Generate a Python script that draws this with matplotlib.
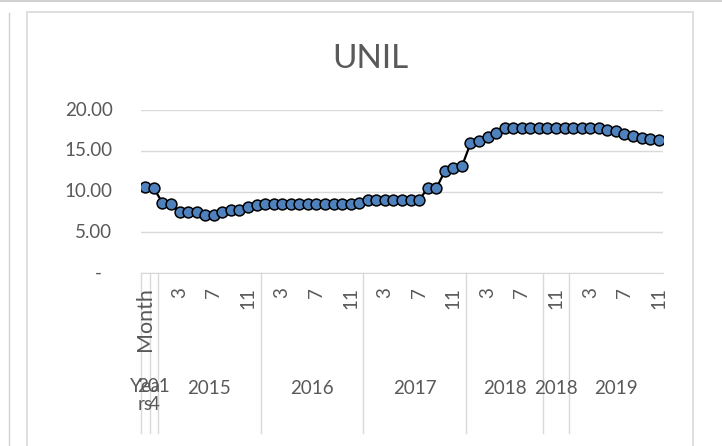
import matplotlib
matplotlib.use("Agg")
import matplotlib.pyplot as plt
from matplotlib.patches import Rectangle
from matplotlib.lines import Line2D

# category axis: outer level (years) and inner level (months)
year_groups = ["Years", "2014", "2015", "2016", "2017", "2018", "2018", "2019"]
group_sizes = [1, 1, 12, 12, 12, 9, 3, 11]
months = (["Month", "12"] + [str(m) for m in range(1, 13)] * 3
          + [str(m) for m in range(1, 10)] + ["10", "11", "12"]
          + [str(m) for m in range(1, 12)])

values = [10.6, 10.4,
          8.65, 8.5, 7.45, 7.45, 7.45, 7.15, 7.15, 7.45, 7.75, 7.75, 8.15, 8.35,
          8.5, 8.5, 8.5, 8.5, 8.5, 8.5, 8.5, 8.5, 8.5, 8.5, 8.5, 8.55,
          9.0, 9.0, 9.0, 9.0, 9.0, 9.0, 9.0, 10.4, 10.4, 12.5, 12.9, 13.1,
          15.9, 16.2, 16.65, 17.15, 17.8, 17.8, 17.8, 17.8, 17.8,
          17.8, 17.8, 17.8,
          17.8, 17.8, 17.8, 17.8, 17.6, 17.45, 17.1, 16.85, 16.6, 16.5, 16.3]

yticks = [0, 5, 10, 15, 20]
ylabels = ["-", "5.00", "10.00", "15.00", "20.00"]

txt = "#595959"
grid = "#D9D9D9"
W, H = 722, 446
plt.rcParams["font.family"] = ["Lato", "DejaVu Sans"]

fig = plt.figure(figsize=(W / 100, H / 100), dpi=100)

# window / chart borders
fig.add_artist(Line2D([0, 1], [1 - 1 / H, 1 - 1 / H], color="#C8C8C8", lw=1.2))
fig.add_artist(Line2D([9 / W, 9 / W], [0, 1 - 13 / H], color="#D0D0D0", lw=1))
fig.add_artist(Rectangle((27 / W, -0.05), (693 - 27) / W, 0.05 + (H - 12) / H,
                         fill=False, edgecolor=grid, lw=1.2))

ax_l, ax_r, ax_t, ax_b = 141, 663, 110, 273.3
ax = fig.add_axes([ax_l / W, 1 - ax_b / H, (ax_r - ax_l) / W, (ax_b - ax_t) / H])

x = list(range(len(values)))
ax.plot(x, values, color="black", lw=1.6, marker="o", markersize=7.8,
        markerfacecolor="#4F81BD", markeredgecolor="black", markeredgewidth=1.1,
        zorder=3)

ax.set_xlim(-0.5, len(values) - 0.5)
ax.set_ylim(0, 20)
ax.set_yticks(yticks)
ax.set_yticklabels([])
ax.set_xticks([])
ax.tick_params(length=0)
ax.grid(axis="y", color=grid, lw=1)
ax.set_axisbelow(True)
for s in ["top", "right", "left"]:
    ax.spines[s].set_visible(False)
ax.spines["bottom"].set_color(grid)

ph = ax_b - ax_t
def ay(py):
    return (ax_b - py) / ph

yt = ax.get_yaxis_transform()
xt = ax.get_xaxis_transform()

for v, lab in zip(yticks, ylabels):
    xr = (102 - ax_l) / (ax_r - ax_l) if lab == "-" else (112.5 - ax_l) / (ax_r - ax_l)
    ax.text(xr, v, lab, transform=yt, ha="right", va="center", fontsize=13.5,
            color=txt, clip_on=False)

# inner level labels (every 4th category)
for i in range(0, len(months), 4):
    fs = 15.5 if months[i] == "Month" else 13.5
    ax.text(i, ay(287), months[i], transform=xt, rotation=90, ha="center",
            va="top", fontsize=fs, color=txt, clip_on=False)

# outer level labels and separators
start = 0
for name, n in zip(year_groups, group_sizes):
    ax.add_line(Line2D([start - 0.5, start - 0.5], [0, ay(433)], transform=xt,
                       color=grid, lw=1, clip_on=False))
    c = start + (n - 1) / 2
    if n == 1:
        lab = name[:3] + "\n" + name[3:]
        ax.text(c, ay(378), lab, transform=xt, ha="center", va="top",
                fontsize=13.5, color=txt, linespacing=1.05, clip_on=False)
    else:
        ax.text(c, ay(388), name, transform=xt, ha="center", va="center",
                fontsize=13.5, color=txt, clip_on=False)
    start += n

fig.text(370 / W, 1 - 59 / H, "UNIL", ha="center", va="center", fontsize=24,
         color=txt)

fig.savefig("out.png", dpi=100)
